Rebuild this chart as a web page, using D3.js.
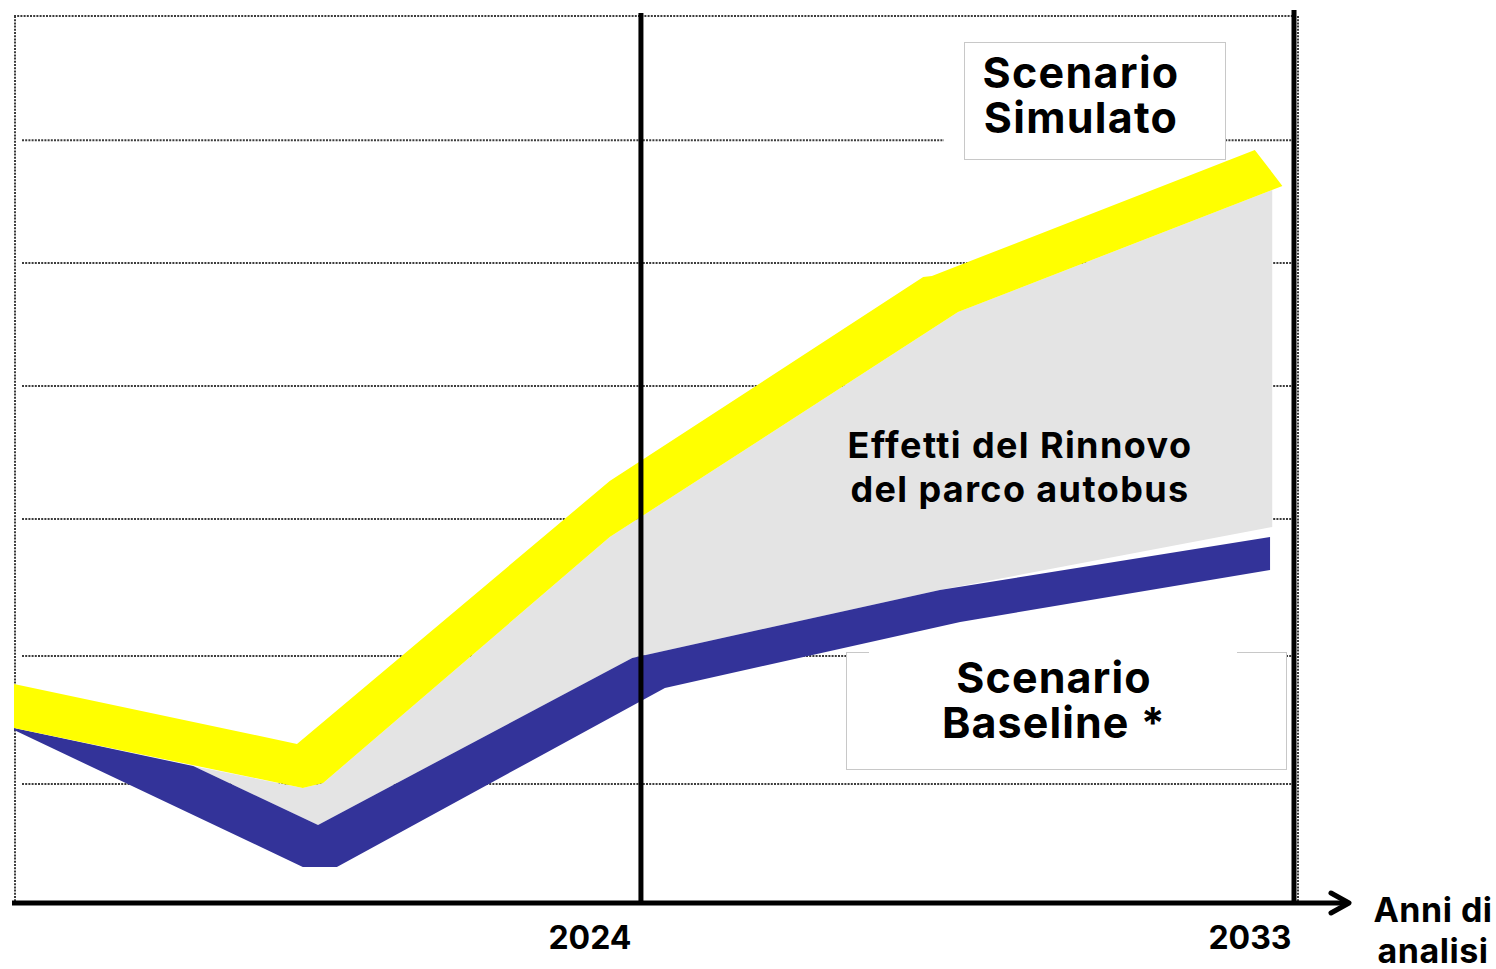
<!DOCTYPE html>
<html>
<head>
<meta charset="utf-8">
<script src="https://cdn.jsdelivr.net/npm/d3@7"></script>
<style>
  body { margin: 0; background: #fff; }
  svg { display: block; }
  text { font-family: Inter, "Open Sans", sans-serif; font-weight: 700; fill: #000; }
</style>
</head>
<body>
<svg id="chart" width="1496" height="969"></svg>
<script>
// Scenario Simulato band (yellow): upper and lower edges, year -> index value
const simTopYears = [2015.36, 2019.26, 2023.57, 2027.89, 2028.01, 2032.46, 2032.84];
const simTopValues = [1.728, 1.255, 3.330, 4.940, 4.948, 5.943, 5.659];
const simBottomYears = [2032.84, 2028.37, 2023.57, 2019.62, 2019.34, 2015.36];
const simBottomValues = [5.659, 4.664, 2.888, 0.947, 0.908, 1.381];

// Scenario Baseline band (blue)
const baseTopYears = [2015.36, 2017.83, 2019.55, 2023.88, 2028.12, 2032.67];
const baseTopValues = [1.381, 1.081, 0.616, 1.934, 2.470, 2.888];
const baseBottomYears = [2032.67, 2028.40, 2024.33, 2019.81, 2019.34, 2015.36];
const baseBottomValues = [2.628, 2.218, 1.697, 0.284, 0.284, 1.365];

// Area between the two scenarios (effects of the fleet renewal)
const gapTopYears = [2017.83, 2019.34, 2019.62, 2023.57, 2028.37, 2032.70];
const gapTopValues = [1.081, 0.908, 0.947, 2.888, 4.664, 5.627];
const gapBottomYears = [2032.70, 2028.12, 2023.88, 2019.55, 2017.83];
const gapBottomValues = [2.967, 2.470, 1.934, 0.616, 1.081];

// Horizontal reference lines and year markers
const gridValues = [0.94, 1.95, 3.03, 4.08, 5.05, 6.02, 7.0];
const tickYears = [2024, 2033];
const tickLabels = ["2024", "2033"];
const axisTitle = ["Anni di", "analisi"];
const simLabel = ["Scenario", "Simulato"];
const baseLabel = ["Scenario", "Baseline *"];
const gapLabel = ["Effetti del Rinnovo", "del parco autobus"];

const svg = d3.select("#chart");
const x = d3.scaleLinear().domain([2015.36, 2033]).range([14, 1294]);
const y = d3.scaleLinear().domain([0, 7]).range([903, 16]);

const dotted = { stroke: "#3c3c3c", width: 2, dash: "2 1.2" };

// dotted grid
const grid = svg.append("g");
grid.selectAll("line.h").data(gridValues).join("line")
  .attr("class", "h")
  .attr("x1", (d, i) => i === gridValues.length - 1 ? x(2015.36) : x(2015.36) + 8)
  .attr("x2", x(2033) - 2)
  .attr("y1", d => y(d)).attr("y2", d => y(d))
  .attr("stroke", dotted.stroke).attr("stroke-width", dotted.width)
  .attr("stroke-dasharray", dotted.dash);
// left and right dotted frame
grid.append("line")
  .attr("x1", x(2015.36) + 1).attr("x2", x(2015.36) + 1)
  .attr("y1", y(7)).attr("y2", y(0))
  .attr("stroke", dotted.stroke).attr("stroke-width", dotted.width)
  .attr("stroke-dasharray", dotted.dash);
grid.append("line")
  .attr("x1", x(2033) + 4).attr("x2", x(2033) + 4)
  .attr("y1", y(7)).attr("y2", y(0))
  .attr("stroke", dotted.stroke).attr("stroke-width", dotted.width)
  .attr("stroke-dasharray", dotted.dash);

// band polygons
function band(topYears, topValues, bottomYears, bottomValues) {
  const pts = topYears.map((yr, i) => [yr, topValues[i]])
    .concat(bottomYears.map((yr, i) => [yr, bottomValues[i]]));
  return d3.line().x(d => x(d[0])).y(d => y(d[1]))(pts) + "Z";
}
const shapes = svg.append("g");
shapes.append("path")
  .attr("d", band(gapTopYears, gapTopValues, gapBottomYears, gapBottomValues))
  .attr("fill", "#e4e4e4");
shapes.append("path")
  .attr("d", band(baseTopYears, baseTopValues, baseBottomYears, baseBottomValues))
  .attr("fill", "#333399");
shapes.append("path")
  .attr("d", band(simTopYears, simTopValues, simBottomYears, simBottomValues))
  .attr("fill", "#ffff00");

// year markers
svg.append("g").selectAll("line").data(tickYears).join("line")
  .attr("x1", d => x(d)).attr("x2", d => x(d))
  .attr("y1", (d, i) => y(7) - 3 - i * 3).attr("y2", y(0))
  .attr("stroke", "#000").attr("stroke-width", 5);

// x axis with arrow
const axisY = y(0);
svg.append("line")
  .attr("x1", 12).attr("x2", 1348)
  .attr("y1", axisY).attr("y2", axisY)
  .attr("stroke", "#000").attr("stroke-width", 5);
svg.append("path")
  .attr("d", `M1331,${axisY - 10}L1349,${axisY}L1331,${axisY + 10}`)
  .attr("fill", "none").attr("stroke", "#000").attr("stroke-width", 5)
  .attr("stroke-linecap", "round").attr("stroke-linejoin", "round");

const xAxis = d3.axisBottom(x).tickValues(tickYears)
  .tickFormat((d, i) => tickLabels[i]).tickSize(0).tickPadding(0);
const axisG = svg.append("g").attr("transform", `translate(0,${axisY})`).call(xAxis);
axisG.select(".domain").remove();
axisG.selectAll("text")
  .attr("y", 46).attr("dy", null)
  .attr("text-anchor", "end")
  .attr("dx", (d, i) => i === 0 ? -10 : -3)
  .style("font-family", "Inter, sans-serif")
  .style("font-weight", 700)
  .style("font-size", "32px")
  .attr("fill", "#000");

// axis title
svg.append("text").attr("text-anchor", "middle")
  .style("font-size", "34px").style("letter-spacing", "0.5px")
  .selectAll("tspan").data(axisTitle).join("tspan")
  .attr("x", 1433).attr("y", (d, i) => 922 + i * 41)
  .text(d => d);

// Scenario Simulato label box
svg.append("rect").attr("x", 944).attr("y", 136).attr("width", 22).attr("height", 8).attr("fill", "#fff");
svg.append("rect").attr("x", 964.5).attr("y", 42.5).attr("width", 261).attr("height", 117)
  .attr("fill", "#fff").attr("stroke", "#c8c8c8").attr("stroke-width", 1);
svg.append("text").attr("text-anchor", "middle")
  .style("font-size", "43px").style("letter-spacing", "1.3px")
  .selectAll("tspan").data(simLabel).join("tspan")
  .attr("x", 1081).attr("y", (d, i) => 88 + i * 45)
  .text(d => d);

// Scenario Baseline label box
svg.append("rect").attr("x", 846.5).attr("y", 652.5).attr("width", 440).attr("height", 117)
  .attr("fill", "#fff").attr("stroke", "#c8c8c8").attr("stroke-width", 1);
svg.append("rect").attr("x", 869).attr("y", 650).attr("width", 368).attr("height", 5).attr("fill", "#fff");
svg.append("text").attr("text-anchor", "middle")
  .style("font-size", "43px").style("letter-spacing", "1.1px")
  .selectAll("tspan").data(baseLabel).join("tspan")
  .attr("x", 1054).attr("y", (d, i) => 693 + i * 45)
  .text(d => d);

// label of the area between scenarios
svg.append("text").attr("text-anchor", "middle")
  .style("font-size", "36px").style("letter-spacing", "1.4px")
  .selectAll("tspan").data(gapLabel).join("tspan")
  .attr("x", 1020).attr("y", (d, i) => 458 + i * 44)
  .text(d => d);
</script>
</body>
</html>
